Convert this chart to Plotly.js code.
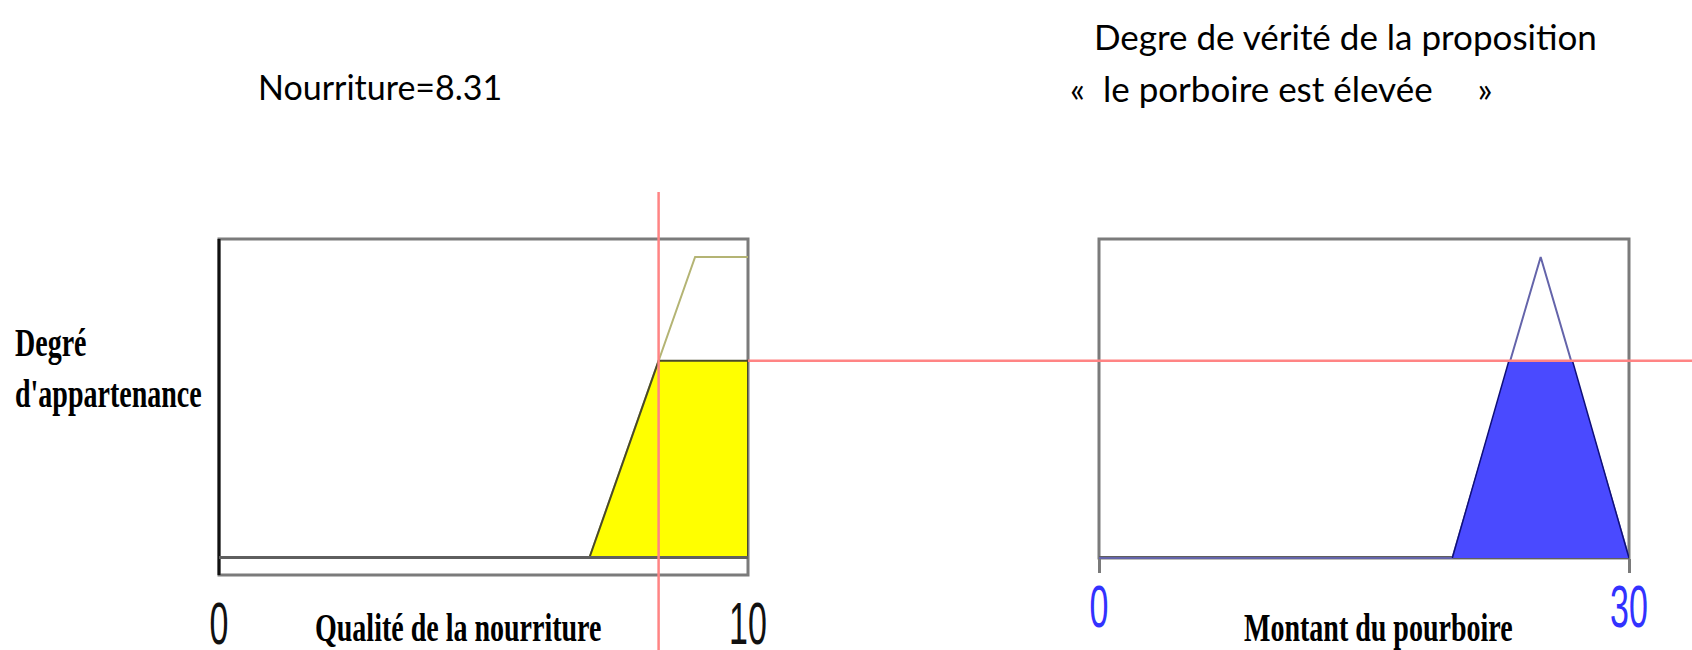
<!DOCTYPE html>
<html>
<head>
<meta charset="utf-8">
<script src="https://cdn.plot.ly/plotly-3.0.1.min.js"></script>
<style>
  html, body { margin: 0; padding: 0; background: #fff; }
  #chart { width: 1692px; height: 650px; }
  .xtick text, .x2tick text { scale: 1 1.72; transform-box: fill-box; transform-origin: center; }
  g.annotation[data-index="3"] text,
  g.annotation[data-index="4"] text,
  g.annotation[data-index="5"] text,
  g.annotation[data-index="6"] text { scale: 1 1.42; transform-box: fill-box; transform-origin: center; }
</style>
</head>
<body>
<div id="chart"></div>
<script>
// ---- data ----
const foodX = [0, 7, 9, 10];          // "excellente" membership function (food quality)
const foodMu = [0, 0, 1, 1];
const tipX = [0, 20, 25, 30];         // "élevé" membership function (tip amount)
const tipMu = [0, 0, 1, 0];
const foodInput = 8.31;               // Nourriture = 8.31
const truthDegree = 0.655;            // degree of membership at the input
const foodCutX = [7, 8.31, 10, 10];   // yellow area
const foodCutMu = [0, 0.655, 0.655, 0];
const tipCutX = [20, 23.2, 26.8, 30]; // blue clipped area
const tipCutMu = [0, 0.655, 0.655, 0];
const foodTicks = [0, 10];
const tipTicks = [0, 30];
const titleLeft = 'Nourriture=8.31';
const titleRight1 = 'Degre de vérité de la proposition';
const titleRight2 = '«\u00a0 le porboire est élevée \u00a0\u00a0\u00a0 »';
const yLabel1 = 'Degré';
const yLabel2 = "d'appartenance";
const xLabelLeft = 'Qualité de la nourriture';
const xLabelRight = 'Montant du pourboire';

// ---- page geometry helpers (pixels -> paper) ----
const W = 1692, H = 650;
const px = v => v / W;
const py = v => 1 - v / H;

const yRange = [-0.0565, 1.0598];
const yDom = [py(575), py(239)];

const traces = [
  { x: foodX, y: foodMu, xaxis: 'x', yaxis: 'y', mode: 'lines',
    line: { color: '#b4b474', width: 2 }, hoverinfo: 'skip' },
  { x: foodCutX, y: foodCutMu, xaxis: 'x', yaxis: 'y', mode: 'lines', fill: 'toself',
    fillcolor: '#ffff00', line: { color: '#4a4a2a', width: 2 }, hoverinfo: 'skip' },
  { x: tipX, y: tipMu, xaxis: 'x2', yaxis: 'y2', mode: 'lines',
    line: { color: '#6464aa', width: 2 }, hoverinfo: 'skip' },
  { x: tipCutX, y: tipCutMu, xaxis: 'x2', yaxis: 'y2', mode: 'lines', fill: 'toself',
    fillcolor: '#4a4aff', line: { color: '#10107a', width: 1.5 }, hoverinfo: 'skip' }
];

const fSerif = 'Liberation Serif, Times New Roman, serif';
const fSans = 'Liberation Sans, Arial, sans-serif';
const fTop = 'Lato, Open Sans, sans-serif';

const layout = {
  width: W, height: H,
  margin: { l: 0, r: 0, t: 0, b: 0, pad: 0 },
  paper_bgcolor: '#ffffff', plot_bgcolor: 'rgba(0,0,0,0)',
  showlegend: false,
  xaxis: {
    domain: [px(219), px(748)], range: [0, 10], anchor: 'y',
    showgrid: false, zeroline: false, showline: false, ticks: '',
    tickvals: foodTicks, ticktext: foodTicks.map(String),
    tickfont: { family: fSans, size: 34, color: '#111111' },
    ticklabelstandoff: 15, fixedrange: true
  },
  yaxis: {
    domain: yDom, range: yRange, anchor: 'x',
    showgrid: false, showticklabels: false, ticks: '', showline: false,
    zeroline: true, zerolinecolor: '#5f5f5f', zerolinewidth: 3, zerolinelayer: 'above traces',
    fixedrange: true
  },
  xaxis2: {
    domain: [px(1099), px(1629)], range: [0, 30], anchor: 'free', position: py(558),
    showgrid: false, zeroline: false, showline: false,
    ticks: 'outside', ticklen: 14, tickwidth: 3, tickcolor: '#7a7a7a',
    tickvals: tipTicks, ticktext: tipTicks.map(String),
    tickfont: { family: fSans, size: 34, color: '#3232ff' },
    ticklabelstandoff: 3, fixedrange: true
  },
  yaxis2: {
    domain: yDom, range: yRange, anchor: 'x2',
    showgrid: false, showticklabels: false, ticks: '', showline: false,
    zeroline: true, zerolinecolor: '#5f5f5f', zerolinewidth: 3,
    fixedrange: true
  },
  shapes: [
    { type: 'rect', xref: 'x domain', yref: 'y domain', x0: 0, x1: 1, y0: 0, y1: 1,
      line: { color: '#7b7b7b', width: 3 }, layer: 'below' },
    { type: 'line', xref: 'x domain', yref: 'y domain', x0: 0, x1: 0, y0: 0, y1: 1,
      line: { color: '#111111', width: 3 }, layer: 'below' },
    { type: 'rect', xref: 'x2 domain', yref: 'y2 domain', x0: 0, x1: 1, y0: 17 / 336, y1: 1,
      line: { color: '#7b7b7b', width: 3 }, layer: 'below' },
    { type: 'line', xref: 'x', yref: 'paper', x0: foodInput, x1: foodInput, y0: 0, y1: py(192),
      line: { color: '#ff8484', width: 2.5 }, layer: 'above' },
    { type: 'line', xref: 'paper', yref: 'y', x0: px(748), x1: 1, y0: truthDegree, y1: truthDegree,
      line: { color: '#ff8484', width: 2.5 }, layer: 'above' }
  ],
  annotations: [
    { text: titleLeft, xref: 'paper', yref: 'paper', x: px(256), y: py(86),
      xanchor: 'left', yanchor: 'middle', showarrow: false,
      font: { family: fTop, size: 34, color: '#000000' } },
    { text: titleRight1, xref: 'paper', yref: 'paper', x: px(1092), y: py(36),
      xanchor: 'left', yanchor: 'middle', showarrow: false,
      font: { family: fTop, size: 35, color: '#000000' } },
    { text: titleRight2, xref: 'paper', yref: 'paper', x: px(1068), y: py(88),
      xanchor: 'left', yanchor: 'middle', showarrow: false,
      font: { family: fTop, size: 35, color: '#000000' } },
    { text: yLabel1, xref: 'paper', yref: 'paper', x: px(13), y: py(342),
      xanchor: 'left', yanchor: 'middle', showarrow: false,
      font: { family: fSerif, size: 28, color: '#000000', weight: 'bold' } },
    { text: yLabel2, xref: 'paper', yref: 'paper', x: px(13), y: py(393),
      xanchor: 'left', yanchor: 'middle', showarrow: false,
      font: { family: fSerif, size: 28, color: '#000000', weight: 'bold' } },
    { text: xLabelLeft, xref: 'paper', yref: 'paper', x: px(458), y: py(627),
      xanchor: 'center', yanchor: 'middle', showarrow: false,
      font: { family: fSerif, size: 28, color: '#000000', weight: 'bold' } },
    { text: xLabelRight, xref: 'paper', yref: 'paper', x: px(1378), y: py(627),
      xanchor: 'center', yanchor: 'middle', showarrow: false,
      font: { family: fSerif, size: 28, color: '#000000', weight: 'bold' } }
  ]
};

Plotly.newPlot('chart', traces, layout, { displayModeBar: false, staticPlot: true });
</script>
</body>
</html>
